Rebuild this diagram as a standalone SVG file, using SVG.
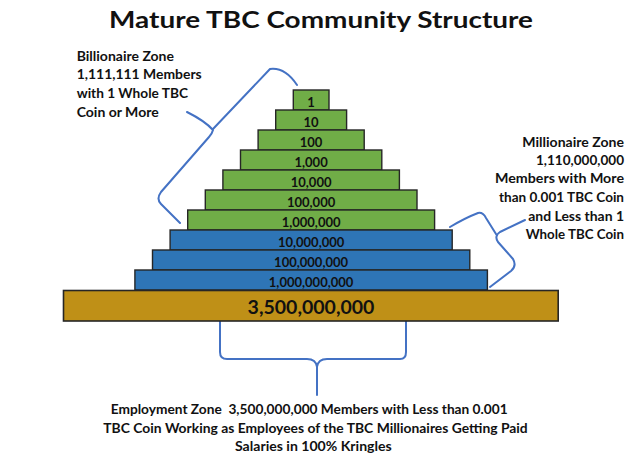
<svg xmlns="http://www.w3.org/2000/svg" width="640" height="463" viewBox="0 0 640 463">
<style>
text{font-family:Lato,"Open Sans","Liberation Sans",sans-serif;font-weight:bold;fill:#111}
.g{fill:#70AD47;stroke:#262626;stroke-width:1.4}
.b{fill:#2E75B6;stroke:#262626;stroke-width:1.4}
.o{fill:#BF9017;stroke:#262626;stroke-width:1.6}
.n{font-size:13px;text-anchor:middle}
.z{font-size:13.2px}
.br{fill:none;stroke:#4472C4;stroke-width:2;stroke-linejoin:round;stroke-linecap:round}
</style>
<rect width="640" height="463" fill="#fff"/>
<text id="title" x="109" y="27.5" font-size="23" textLength="424" lengthAdjust="spacingAndGlyphs">Mature TBC Community Structure</text>

<g id="connectors">
<path class="br" d="M297,85 Q285,67 270,69 L213,129 M187,112 Q205,121 213,130 Q212,134 209,137 L161,192 Q156,199 161,204 L180,223"/>
<path class="br" d="M450,227 Q465,218 478,213 Q483,212 486,218 L496,234 M525,220 L500,232 Q494,236 498,242 L513,259 Q517,266 511,271 L490,287"/>
<path class="br" d="M220,320 L220,352 Q220,359 227,359 L307,359 Q316,359 317,367 L317,395 M317,367 Q318,359 327,359 L400,359 Q406,359 406,352 L406,320"/>
</g>

<g id="step-1"><rect class="g" x="293.3" y="90" width="35.7" height="20"/><text class="n" x="311.1" y="106.5">1</text></g>
<g id="step-10"><rect class="g" x="275.7" y="110" width="70.9" height="20"/><text class="n" x="311.1" y="126.5">10</text></g>
<g id="step-100"><rect class="g" x="258.1" y="130" width="106.1" height="20"/><text class="n" x="311.1" y="146.5">100</text></g>
<g id="step-1000"><rect class="g" x="240.5" y="150" width="141.3" height="20"/><text class="n" x="311.1" y="166.5">1,000</text></g>
<g id="step-10000"><rect class="g" x="222.9" y="170" width="176.5" height="20"/><text class="n" x="311.1" y="186.5">10,000</text></g>
<g id="step-100000"><rect class="g" x="205.3" y="190" width="211.7" height="20"/><text class="n" x="311.1" y="206.5">100,000</text></g>
<g id="step-1000000"><rect class="g" x="187.7" y="210" width="246.9" height="20"/><text class="n" x="311.1" y="226.5">1,000,000</text></g>
<g id="step-10000000"><rect class="b" x="170.1" y="230" width="282.1" height="20"/><text class="n" x="311.1" y="246.5">10,000,000</text></g>
<g id="step-100000000"><rect class="b" x="152.5" y="250" width="317.3" height="20"/><text class="n" x="311.1" y="266.5">100,000,000</text></g>
<g id="step-1000000000"><rect class="b" x="134.9" y="270" width="352.5" height="20"/><text class="n" x="311.1" y="286.5">1,000,000,000</text></g>
<g id="base"><rect class="o" x="63.5" y="290.5" width="494.7" height="30.5"/><text x="311" y="314" font-size="19.5" text-anchor="middle">3,500,000,000</text></g>

<g id="billionaire-zone">
<text class="z" x="76.7" y="60.7" textLength="97.3" lengthAdjust="spacingAndGlyphs">Billionaire Zone</text>
<text class="z" x="76.7" y="79.3" textLength="125" lengthAdjust="spacingAndGlyphs">1,111,111 Members</text>
<text class="z" x="76.7" y="97.8" textLength="111.3" lengthAdjust="spacingAndGlyphs">with 1 Whole TBC</text>
<text class="z" x="76.7" y="116.7" textLength="82" lengthAdjust="spacingAndGlyphs">Coin or More</text>
</g>

<g id="millionaire-zone">
<text class="z" x="522.3" y="146.7" textLength="101.7" lengthAdjust="spacingAndGlyphs">Millionaire Zone</text>
<text class="z" x="536" y="165" textLength="88" lengthAdjust="spacingAndGlyphs">1,110,000,000</text>
<text class="z" x="495" y="183.4" textLength="129" lengthAdjust="spacingAndGlyphs">Members with More</text>
<text class="z" x="499" y="202.3" textLength="125" lengthAdjust="spacingAndGlyphs">than 0.001 TBC Coin</text>
<text class="z" x="528.3" y="220.7" textLength="95.7" lengthAdjust="spacingAndGlyphs">and Less than 1</text>
<text class="z" x="525.7" y="239" textLength="98.3" lengthAdjust="spacingAndGlyphs">Whole TBC Coin</text>
</g>

<g id="employment-zone">
<text class="z" x="110.7" y="414.3" textLength="397" lengthAdjust="spacingAndGlyphs" xml:space="preserve">Employment Zone  3,500,000,000 Members with Less than 0.001</text>
<text class="z" x="103.3" y="432.7" textLength="424.4" lengthAdjust="spacingAndGlyphs">TBC Coin Working as Employees of the TBC Millionaires Getting Paid</text>
<text class="z" x="235" y="450.8" textLength="156.7" lengthAdjust="spacingAndGlyphs">Salaries in 100% Kringles</text>
</g>
</svg>
